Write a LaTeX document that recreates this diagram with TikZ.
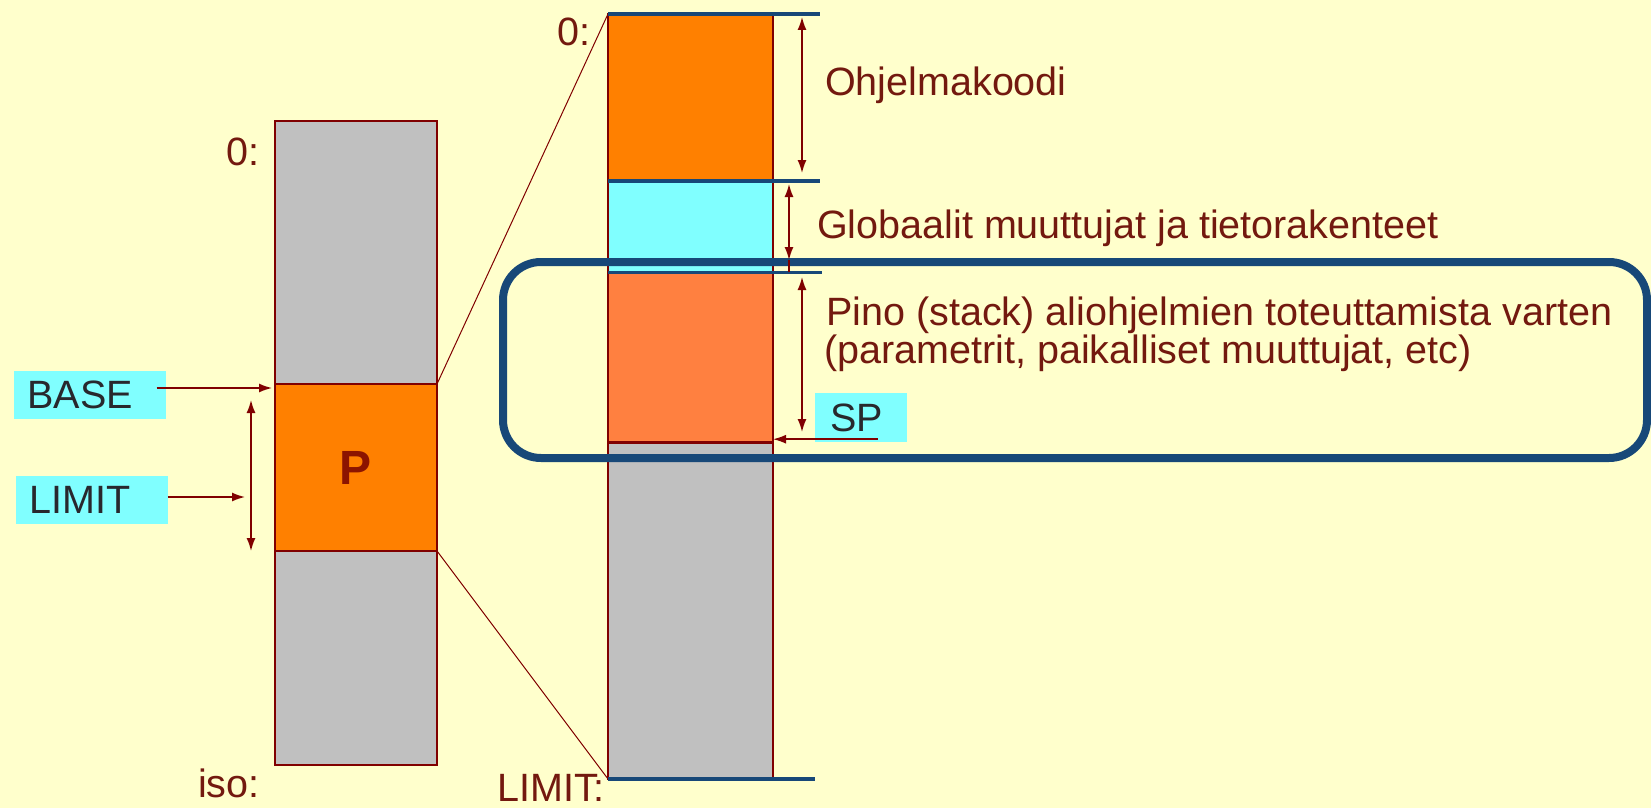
\documentclass[tikz,border=0pt]{standalone}
\usepackage{fontspec}
\setmainfont{Liberation Sans}
\usepackage{tikz}
\usetikzlibrary{arrows.meta,positioning,calc}

\definecolor{paper}{HTML}{FFFFCC}
\definecolor{memgray}{HTML}{C0C0C0}
\definecolor{procorange}{HTML}{FF8000}
\definecolor{datacyan}{HTML}{80FFFF}
\definecolor{stackorange}{HTML}{FF8040}
\definecolor{regcyan}{HTML}{80FFFF}
\definecolor{segline}{HTML}{800000}
\definecolor{boundblue}{RGB}{23,72,120}
\definecolor{notered}{RGB}{115,25,15}
\definecolor{regtext}{RGB}{40,40,45}
\definecolor{pred}{RGB}{140,20,0}

\begin{document}
\begin{tikzpicture}[x=1pt, y=-1pt,
    seg/.style={rectangle, draw=segline, line width=1.5pt, inner sep=0pt, outer sep=0pt},
    reg/.style={rectangle, fill=regcyan, text=regtext, text width=124pt, align=left, inner xsep=14pt, inner ysep=0pt, minimum height=48pt, font=\fontsize{39.5}{39}\selectfont},
    note/.style={text=notered, inner sep=0pt, anchor=base west, font=\fontsize{39.5}{39}\selectfont},
    bound/.style={draw=boundblue, line width=4pt},
    dim/.style={{Latex[length=13pt,width=9pt]}-{Latex[length=13pt,width=9pt]}, draw=segline, line width=1.5pt},
    ptr/.style={-{Latex[length=13pt,width=9pt]}, draw=segline, line width=1.5pt},
    zoomline/.style={draw=segline, line width=1pt}]

    \fill[paper] (0,0) rectangle (1651,808);
    \useasboundingbox (0,0) rectangle (1651,808);

    % whole memory, process P in the middle
    \node[seg, fill=memgray, minimum width=162pt, minimum height=263pt, anchor=north west] (upper) at (275,121) {};
    \node[seg, fill=procorange, minimum width=162pt, minimum height=167pt, below=0pt of upper, text=pred, font=\fontsize{48}{48}\selectfont\bfseries] (proc) {P};
    \node[seg, fill=memgray, minimum width=162pt, minimum height=214pt, below=0pt of proc] (lower) {};

    % the area of P, opened up
    \node[seg, fill=procorange, minimum width=165pt, minimum height=167pt, anchor=north west] (code) at (608,14) {};
    \node[seg, fill=datacyan, minimum width=165pt, minimum height=91pt, below=0pt of code] (data) {};
    \node[seg, fill=stackorange, minimum width=165pt, minimum height=170pt, below=0pt of data] (stack) {};
    \node[seg, fill=memgray, minimum width=165pt, minimum height=337pt, below=0pt of stack] (free) {};
    \draw[segline, line width=3pt] (stack.south west) -- (stack.south east);

    \draw[zoomline] (proc.north east) -- (code.north west);
    \draw[zoomline] (proc.south east) -- (free.south west);

    % stack frame
    \draw[draw=boundblue, line width=8pt, rounded corners=38pt] (503,262) rectangle (1647,458);

    \draw[bound] (code.north west) -- ++(212,0);
    \draw[bound] (data.north west) -- ++(212,0);
    \draw[bound, line width=3pt] (stack.north west) -- ++(214,0);
    \draw[bound] (free.south west) -- ++(207,0);

    \draw[dim] ($(code.north east)+(29,3)$) -- ($(code.south east)+(29,-8)$);
    \draw[dim] ($(data.north east)+(16,3)$) -- ($(data.south east)+(16,-12)$);
    \draw[segline, line width=1.5pt] ($(data.south east)+(16,-12)$) -- ++(0,12);
    \draw[dim] ($(stack.north east)+(29,5)$) -- ($(stack.south east)+(29,-10)$);

    % registers
    \node[reg] (base) at (89.5,395) {BASE};
    \node[reg] (limit) at (91.5,500) {LIMIT};
    \node[reg, text width=62pt, inner xsep=15pt, minimum height=49pt] (sp) at (861,417.5) {SP};

    \coordinate (spantop) at ($(proc.north west)+(-24,16)$);
    \coordinate (spanbot) at (spantop |- proc.south);
    \draw[dim] (spantop) -- (spanbot);

    \coordinate (baseat) at ($(base.east)+(-9,-7)$);
    \coordinate (limitat) at ($(limit.east)+(0,-3)$);
    \coordinate (spat) at ($(sp.south west)+(63,-3)$);
    \draw[ptr, shorten >=3pt] (baseat) -- (baseat -| proc.west);
    \draw[ptr, shorten >=6pt] (limitat) -- (limitat -| spantop);
    \draw[ptr] (spat) -- (spat -| stack.east);

    % addresses and captions
    \node[note] (zero1) at (226,165) {0:};
    \node[note] (iso) at (198,797) {iso:};
    \node[note] (zero2) at (557,46) {0:};
    \node[note] (lim) at (497,801) {LIMIT:};
    \node[note] (codetxt) at (825,95) {Ohjelmakoodi};
    \node[note] (datatxt) at (817,238) {Globaalit muuttujat ja tietorakenteet};
    \node[note] (stacktxt) at (826,325) {Pino (stack) aliohjelmien toteuttamista varten};
    \node[note] (stacktxt2) at (824,363) {(parametrit, paikalliset muuttujat, etc)};
\end{tikzpicture}
\end{document}
